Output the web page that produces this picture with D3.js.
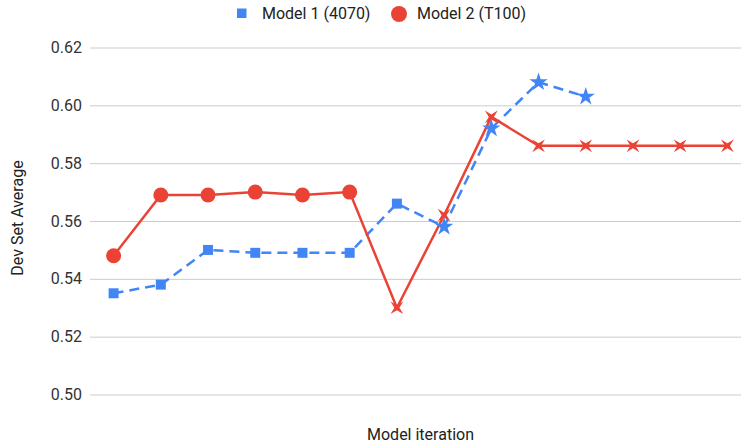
<!DOCTYPE html>
<html><head><meta charset="utf-8">
<script src="https://cdn.jsdelivr.net/npm/d3@7"></script>
<style>body{margin:0;background:#fff}svg{display:block;font-family:Roboto,Arial,sans-serif}</style>
</head><body><svg id="c" width="741" height="444"></svg>
<script>
const iterations = [1,2,3,4,5,6,7,8,9,10,11,12,13,14];
const model1 = [0.535,0.538,0.550,0.549,0.549,0.549,0.566,0.558,0.592,0.608,0.603,null,null,null];
const model2 = [0.548,0.569,0.569,0.570,0.569,0.570,0.530,0.562,0.596,0.586,0.586,0.586,0.586,0.586];
const model1Shapes = ["square","square","square","square","square","square","square","star","star","star","star"];
const model2Shapes = ["circle","circle","circle","circle","circle","circle","x","x","x","x","x","x","x","x"];
const yTicks = [0.50,0.52,0.54,0.56,0.58,0.60,0.62];
const seriesNames = ["Model 1 (4070)","Model 2 (T100)"];
const colors = ["#4285F4","#EA4335"];

(function(){
const svg = d3.select("#c");
const mLeft = 90, mRight = 751, mTop = 47.5, mBottom = 394.5;
const x = d3.scaleBand().domain(iterations).range([mLeft,mRight]).paddingInner(0).paddingOuter(0);
const cx = d => x(d) + x.bandwidth()/2;
const y = d3.scaleLinear().domain([0.50,0.62]).range([mBottom,mTop]);
const FS = "16px";

// gridlines
const yAxis = d3.axisLeft(y).tickValues(yTicks).tickFormat(d3.format(".2f")).tickSize(-(741-mLeft)).tickPadding(8);
const ga = svg.append("g").attr("transform",`translate(${mLeft},0)`).call(yAxis);
ga.select(".domain").remove();
ga.selectAll(".tick line").attr("stroke","#cccccc").attr("stroke-width",1);
ga.selectAll(".tick text").attr("fill","#333").style("font-size",FS).attr("font-family","Roboto, Arial, sans-serif");

// axis titles
svg.append("text").attr("transform","translate(23,218) rotate(-90)").attr("text-anchor","middle")
  .style("font-size",FS).attr("fill","#222").text("Dev Set Average");
svg.append("text").attr("x",420.5).attr("y",440).attr("text-anchor","middle")
  .style("font-size",FS).attr("fill","#222").text("Model iteration");

// lines
const line = d3.line().defined(d=>d.v!=null).x(d=>cx(d.k)).y(d=>y(d.v));
const s1 = iterations.map((k,i)=>({k,v:model1[i],shape:model1Shapes[i]}));
const s2 = iterations.map((k,i)=>({k,v:model2[i],shape:model2Shapes[i]}));
svg.append("path").datum(s1).attr("d",line).attr("fill","none").attr("stroke",colors[0]).attr("stroke-width",2.5).attr("stroke-dasharray","10,6");
svg.append("path").datum(s2).attr("d",line).attr("fill","none").attr("stroke",colors[1]).attr("stroke-width",2.5);

function xShape(r){
  const pts=[];
  for(let i=0;i<8;i++){
    const a = Math.PI/4 + i*Math.PI/4;
    const rr = i%2===0 ? r : r*0.28;
    pts.push([rr*Math.cos(a), rr*Math.sin(a)]);
  }
  return "M"+pts.map(p=>p.join(",")).join("L")+"Z";
}
function markerPath(shape){
  if(shape==="square") return d3.symbol(d3.symbolSquare,100)();
  if(shape==="circle") return d3.symbol(d3.symbolCircle,Math.PI*7.5*7.5)();
  if(shape==="star") return d3.symbol(d3.symbolStar,105)();
  if(shape==="x") return xShape(9);
}
function drawPoints(data,color){
  svg.append("g").selectAll("path").data(data.filter(d=>d.v!=null)).join("path")
    .attr("transform",d=>`translate(${cx(d.k)},${y(d.v)})`)
    .attr("d",d=>markerPath(d.shape)).attr("fill",color);
}
drawPoints(s1,colors[0]);
drawPoints(s2,colors[1]);

// legend
const lg = svg.append("g");
lg.append("rect").attr("x",237).attr("y",8.5).attr("width",9.5).attr("height",9.5).attr("fill",colors[0]);
lg.append("text").attr("x",262).attr("y",19).style("font-size",FS).attr("fill","#222").text(seriesNames[0]);
lg.append("circle").attr("cx",399).attr("cy",14).attr("r",8).attr("fill",colors[1]);
lg.append("text").attr("x",417).attr("y",19).style("font-size",FS).attr("fill","#222").text(seriesNames[1]);
})();
</script></body></html>
